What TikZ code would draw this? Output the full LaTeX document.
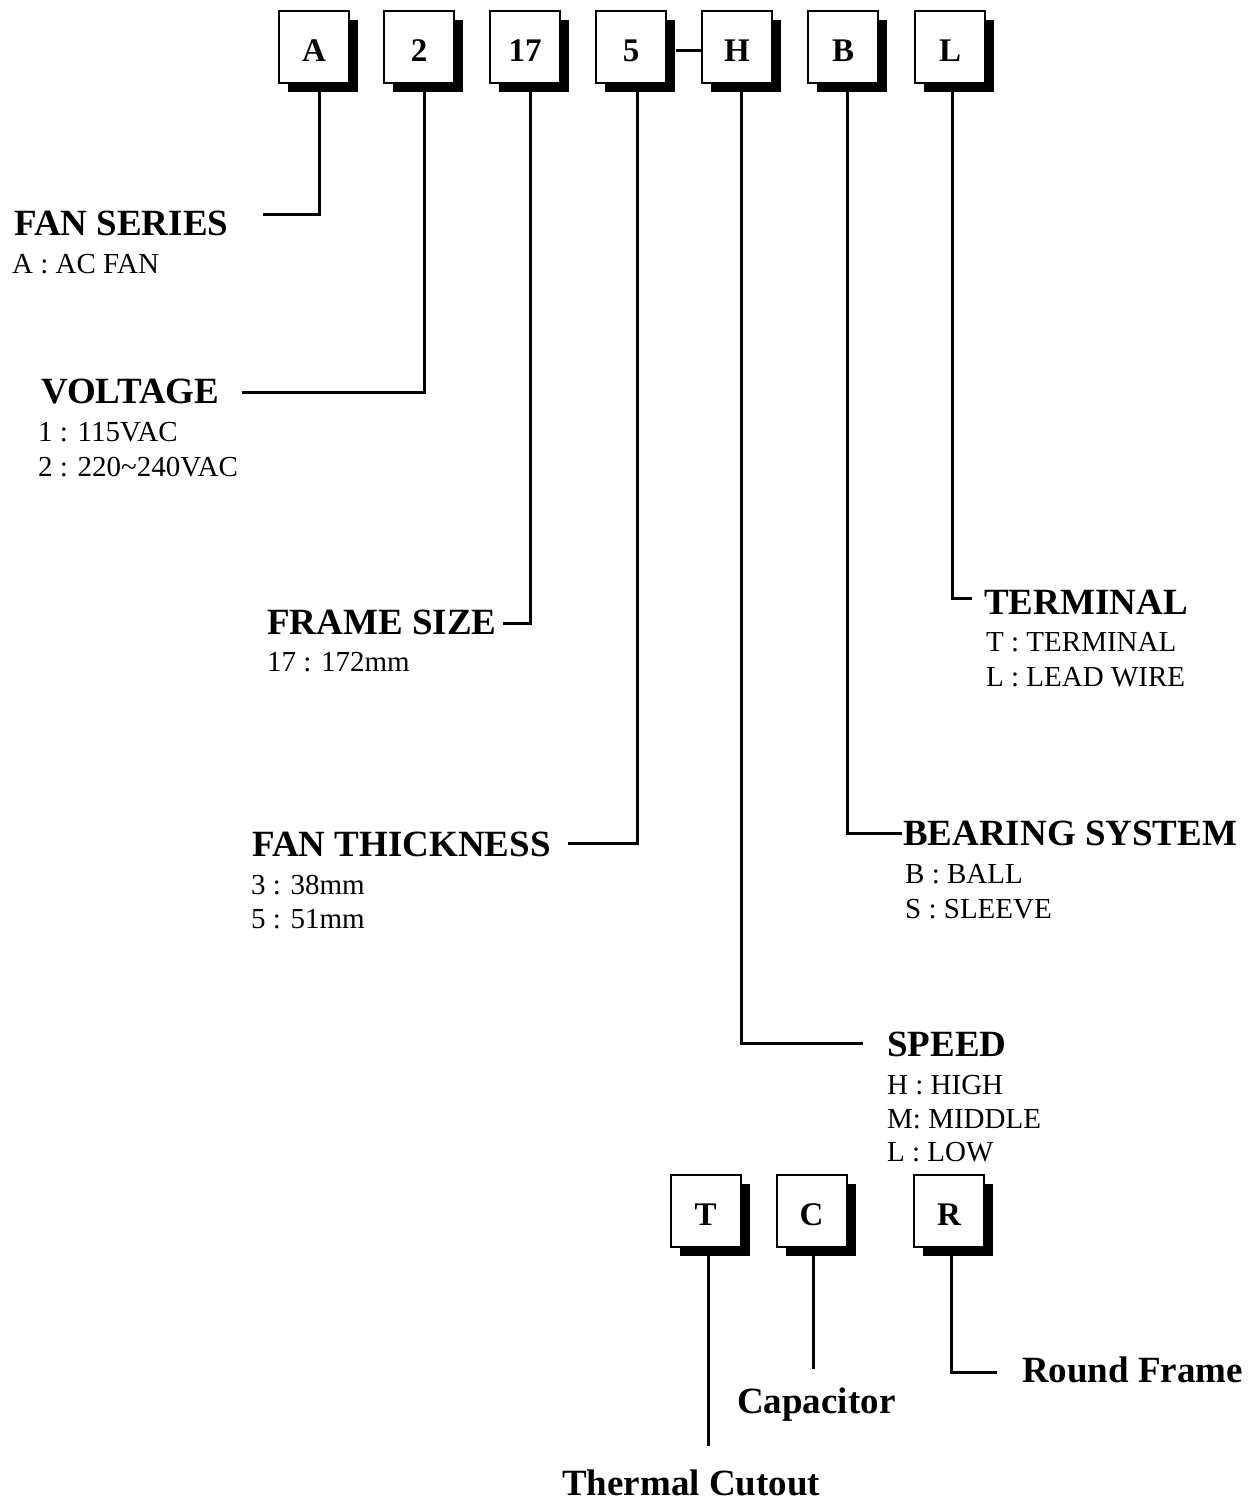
\documentclass[tikz,border=0pt]{standalone}
\usepackage{fontspec}
\setmainfont{Liberation Serif}
\usetikzlibrary{shadows}
\begin{document}
\begin{tikzpicture}[x=1pt,y=-1pt,
  codebox/.style={draw, line width=2pt, fill=white, minimum width=70pt, minimum height=72pt,
    inner sep=0pt, text height=29pt, text depth=0pt,
    font=\fontsize{33}{40}\selectfont\bfseries,
    drop shadow={shadow xshift=9pt, shadow yshift=-9pt, fill=black, opacity=1}},
  head/.style={anchor=base west, inner sep=0pt, font=\fontsize{37}{44}\selectfont\bfseries},
  sub/.style={anchor=base west, inner sep=0pt, font=\fontsize{29}{35}\selectfont},
  conn/.style={line width=3pt, line cap=butt, line join=miter}]
\useasboundingbox (0,0) rectangle (1248,1502);
% top code boxes
\node[codebox] (bA)  at (314,46.5) {A};
\node[codebox] (b2)  at (419,46.5) {2};
\node[codebox] (b17) at (525,46.5) {17};
\node[codebox] (b5)  at (631,46.5) {5};
\node[codebox] (bH)  at (737,46.5) {H};
\node[codebox] (bB)  at (843,46.5) {B};
\node[codebox] (bL)  at (950,46.5) {L};
% bottom option boxes
\node[codebox] (bT) at (705.5,1210.5) {T};
\node[codebox] (bC) at (811.5,1210.5) {C};
\node[codebox] (bR) at (949,1210.5) {R};
% labels
\node[head] (hFan) at (14,235) {FAN SERIES};
\node[sub]  (sFan) at (12,273) {A : AC FAN};
\node[head] (hVolt) at (41,403) {VOLTAGE};
\node[sub]  (sV1) at (38,441) {1 : 115VAC};
\node[sub]  (sV2) at (38,476) {2 : 220\textasciitilde240VAC};
\node[head] (hFrame) at (267,634) {FRAME SIZE};
\node[sub]  (sFr) at (267,671) {17 : 172mm};
\node[head] (hThick) at (252,856) {FAN THICKNESS};
\node[sub]  (sTh1) at (251,894) {3 : 38mm};
\node[sub]  (sTh2) at (251,928) {5 : 51mm};
\node[head] (hTerm) at (984,614) {TERMINAL};
\node[sub]  (sTe1) at (986,651) {T : TERMINAL};
\node[sub]  (sTe2) at (986,686) {L : LEAD WIRE};
\node[head] (hBear) at (903,845) {BEARING SYSTEM};
\node[sub]  (sB1) at (905,883) {B : BALL};
\node[sub]  (sB2) at (905,918) {S : SLEEVE};
\node[head] (hSpeed) at (887,1056) {SPEED};
\node[sub]  (sS1) at (887,1094) {H : HIGH};
\node[sub]  (sS2) at (887,1128) {M: MIDDLE};
\node[sub]  (sS3) at (887,1161) {L : LOW};
\node[head] (hTherm) at (562,1495) {Thermal Cutout};
\node[head] (hCap) at (737,1413) {Capacitor};
\node[head] (hRound) at (1022,1382) {Round Frame};
% connector ends
\coordinate (eA) at (263,214);
\coordinate (e2) at (242,392);
\coordinate (e17) at (503,623);
\coordinate (e5) at (568,843);
\coordinate (eH) at (863,1043);
\coordinate (eB) at (902,833);
\coordinate (eL) at (972,598);
\coordinate (eT) at (708,1446);
\coordinate (eC) at (813,1369);
\coordinate (eR) at (997,1372);
% connectors
\draw[conn] ([xshift=5pt]bA.south) |- (eA);
\draw[conn] ([xshift=5pt]b2.south) |- (e2);
\draw[conn] ([xshift=5pt]b17.south) |- (e17);
\draw[conn] ([xshift=6pt]b5.south) |- (e5);
\draw[conn] ([xshift=4pt]bH.south) |- (eH);
\draw[conn] ([xshift=4pt]bB.south) |- (eB);
\draw[conn] ([xshift=2pt]bL.south) |- (eL);
\draw[conn] ([xshift=3pt]bT.south) -- ([xshift=3pt]bT.south |- eT);
\draw[conn] ([xshift=2pt]bC.south) -- ([xshift=2pt]bC.south |- eC);
\draw[conn] ([xshift=2pt]bR.south) |- (eR);
\draw[conn] ([xshift=9pt,yshift=-3.5pt]b5.east) -- ([yshift=-3.5pt]bH.west);
\end{tikzpicture}
\end{document}
